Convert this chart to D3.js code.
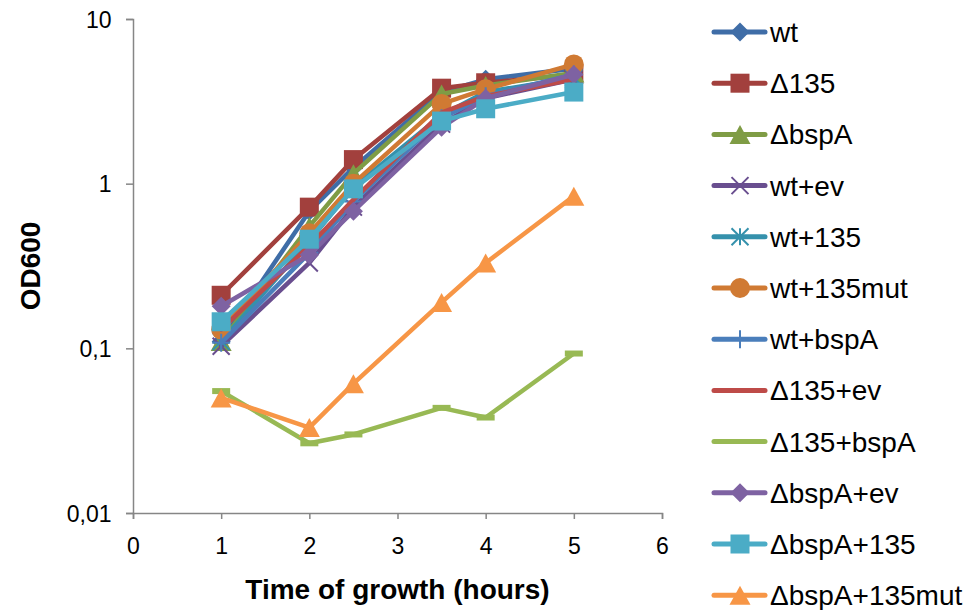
<!DOCTYPE html>
<html>
<head>
<meta charset="utf-8">
<script src="https://cdn.jsdelivr.net/npm/d3@7"></script>
<style>
  html, body { margin: 0; padding: 0; background: #fff; }
  svg { display: block; }
  text { font-family: "Liberation Sans", Arial, sans-serif; fill: #000; }
</style>
</head>
<body>
<svg id="chart" width="974" height="610"></svg>
<script>
// Sampling times (hours)
const hours = [1, 2, 2.5, 3.5, 4, 5];

// Strain names, in plotting order
const strains = ["wt", "Δ135", "ΔbspA", "wt+ev", "wt+135", "wt+135mut",
                 "wt+bspA", "Δ135+ev", "Δ135+bspA", "ΔbspA+ev", "ΔbspA+135", "ΔbspA+135mut"];

// OD600 readings per strain
const wt           = [0.11, 0.68, 1.25, 3.6, 4.3, 5.0];
const d135         = [0.21, 0.72, 1.4, 3.8, 4.1, 4.6];
const dbspA        = [0.11, 0.55, 1.15, 3.5, 3.95, 4.7];
const wtEv         = [0.103, 0.33, 0.72, 2.3, 3.3, 4.3];
const wt135        = [0.11, 0.45, 0.95, 2.6, 3.6, 4.4];
const wt135mut     = [0.13, 0.5, 1.0, 3.05, 3.75, 5.3];
const wtBspA       = [0.108, 0.38, 0.78, 2.5, 3.4, 4.6];
const d135Ev       = [0.13, 0.42, 0.8, 2.7, 3.4, 4.3];
const d135BspA     = [0.055, 0.0265, 0.030, 0.0435, 0.038, 0.093];
const dbspAEv      = [0.18, 0.37, 0.68, 2.2, 3.3, 4.6];
const dbspA135     = [0.145, 0.46, 0.93, 2.4, 2.85, 3.6];
const dbspA135mut  = [0.05, 0.033, 0.061, 0.19, 0.33, 0.84];

const seriesValues = [wt, d135, dbspA, wtEv, wt135, wt135mut,
                      wtBspA, d135Ev, d135BspA, dbspAEv, dbspA135, dbspA135mut];

// Axis ticks
const xTicks = [0, 1, 2, 3, 4, 5, 6];
const yTicks = [0.01, 0.1, 1, 10];
const yTickLabels = ["0,01", "0,1", "1", "10"];

// Styling per series
const colors = ["#3F6DA7", "#A2403D", "#7F9C45", "#694E8F", "#3591AC", "#D07A33",
                "#4A7EBB", "#BE4B48", "#98B954", "#7E62A2", "#4BACC6", "#F79646"];
const markers = ["diamond", "square", "triangle", "x", "star", "circle",
                 "plus", "none", "dash", "diamond", "square", "triangle"];

const svg = d3.select("#chart");

const x = d3.scaleLinear().domain([0, 6]).range([133, 662]);
const y = d3.scaleLog().domain([0.01, 10]).range([513, 19]);

// Axes
const xAxis = d3.axisBottom(x).tickValues(xTicks).tickSize(6).tickFormat(d3.format("d"));
const yAxis = d3.axisLeft(y).tickValues(yTicks).tickSize(7)
  .tickFormat((d, i) => yTickLabels[i]);

const gx = svg.append("g").attr("transform", `translate(0,${y(0.01)})`).call(xAxis);
const gy = svg.append("g").attr("transform", `translate(${x(0)},0)`).call(yAxis);
[gx, gy].forEach(g => {
  g.select(".domain").attr("stroke", "#868686").attr("stroke-width", 1.5);
  g.selectAll(".tick line").attr("stroke", "#868686").attr("stroke-width", 1.5);
  g.selectAll(".tick text").style("font-size", "23px").attr("fill", "#000");
});
gx.selectAll(".tick text").attr("dy", "1.4em");
gy.selectAll(".tick text").attr("dx", "-0.5em").attr("dy", "0.35em");

// Axis titles
svg.append("text")
  .attr("x", x(3)).attr("y", 599)
  .attr("text-anchor", "middle")
  .style("font-size", "28px").style("font-weight", "bold")
  .text("Time of growth (hours)");
svg.append("text")
  .attr("transform", `translate(40,${y(Math.sqrt(0.1))}) rotate(-90)`)
  .attr("text-anchor", "middle")
  .style("font-size", "28px").style("font-weight", "bold")
  .text("OD600");

// Marker drawing
function drawMarker(g, type, cx, cy, color) {
  const s = 9.5;
  if (type === "diamond") {
    g.append("path").attr("d", `M${cx},${cy - s}L${cx + s},${cy}L${cx},${cy + s}L${cx - s},${cy}Z`)
      .attr("fill", color);
  } else if (type === "square") {
    g.append("rect").attr("x", cx - s).attr("y", cy - s).attr("width", 2 * s).attr("height", 2 * s)
      .attr("fill", color);
  } else if (type === "triangle") {
    g.append("path").attr("d", `M${cx},${cy - s}L${cx + s + 1},${cy + s}L${cx - s - 1},${cy + s}Z`)
      .attr("fill", color);
  } else if (type === "circle") {
    g.append("circle").attr("cx", cx).attr("cy", cy).attr("r", s + 0.5).attr("fill", color);
  } else if (type === "x") {
    const r = 8.5;
    g.append("path").attr("d", `M${cx - r},${cy - r}L${cx + r},${cy + r}M${cx - r},${cy + r}L${cx + r},${cy - r}`)
      .attr("stroke", color).attr("stroke-width", 2).attr("fill", "none");
  } else if (type === "star") {
    const r = 8.5;
    g.append("path").attr("d", `M${cx - r},${cy - r}L${cx + r},${cy + r}M${cx - r},${cy + r}L${cx + r},${cy - r}M${cx},${cy - r}L${cx},${cy + r}`)
      .attr("stroke", color).attr("stroke-width", 2).attr("fill", "none");
  } else if (type === "plus") {
    const r = 9;
    g.append("path").attr("d", `M${cx},${cy - r}L${cx},${cy + r}M${cx - r},${cy}L${cx + r},${cy}`)
      .attr("stroke", color).attr("stroke-width", 2).attr("fill", "none");
  } else if (type === "dash") {
    g.append("rect").attr("x", cx - 9).attr("y", cy - 3).attr("width", 18).attr("height", 6)
      .attr("fill", color);
  }
}

// Growth curves
const line = d3.line().x((d, i) => x(hours[i])).y(d => y(d));
const plot = svg.append("g");
seriesValues.forEach((vals, k) => {
  const g = plot.append("g");
  g.append("path").datum(vals).attr("d", line)
    .attr("fill", "none").attr("stroke", colors[k]).attr("stroke-width", 4.5)
    .attr("stroke-linejoin", "round").attr("stroke-linecap", "round");
  vals.forEach((v, i) => drawMarker(g, markers[k], x(hours[i]), y(v), colors[k]));
});

// Legend
const legend = svg.append("g");
strains.forEach((name, k) => {
  const cy = 32 + k * 51.2;
  const g = legend.append("g");
  g.append("line").attr("x1", 714).attr("x2", 765).attr("y1", cy).attr("y2", cy)
    .attr("stroke", colors[k]).attr("stroke-width", 5).attr("stroke-linecap", "round");
  if (markers[k] !== "dash") drawMarker(g, markers[k], 740, cy, colors[k]);
  g.append("text").attr("x", 770).attr("y", cy).attr("dy", "0.36em")
    .style("font-size", "28px").text(name);
});
</script>
</body>
</html>
